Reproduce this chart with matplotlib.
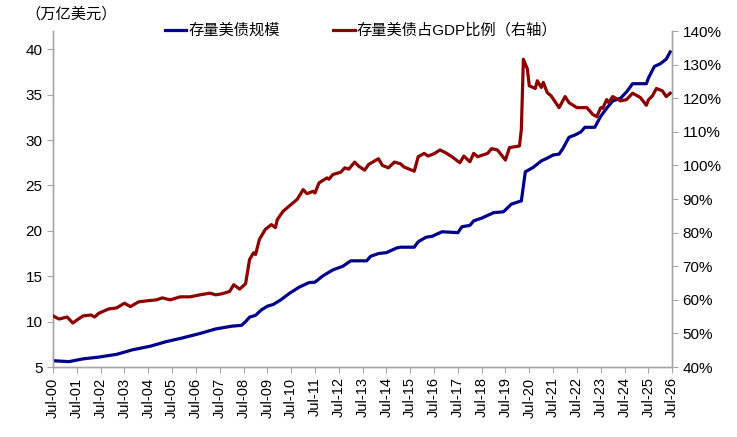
import matplotlib
matplotlib.use("Agg")
import matplotlib.pyplot as plt
import matplotlib.dates as mdates
from matplotlib.ticker import FuncFormatter
import pandas as pd

plt.rcParams['font.family'] = ['Liberation Sans', 'Noto Sans CJK SC', 'DejaVu Sans']

# 存量美债规模（万亿美元）
debt_dates = ["2000-07", "2001-03", "2001-10", "2002-06", "2003-03", "2003-11", "2004-08",
              "2005-04", "2005-12", "2006-09", "2007-05", "2008-01", "2008-06", "2008-08",
              "2008-10", "2009-01", "2009-04", "2009-07", "2009-10", "2010-02", "2010-06",
              "2010-11", "2011-04", "2011-07", "2011-11", "2012-04", "2012-09", "2013-01",
              "2013-09", "2013-11", "2014-03", "2014-07", "2014-12", "2015-02", "2015-09",
              "2015-11", "2016-03", "2016-06", "2016-11", "2017-07", "2017-09", "2018-01",
              "2018-03", "2018-07", "2019-01", "2019-06", "2019-10", "2020-03", "2020-05",
              "2020-09", "2021-01", "2021-04", "2021-07", "2021-10", "2021-12", "2022-03",
              "2022-06", "2022-09", "2022-11", "2023-04", "2023-07", "2023-10", "2024-01",
              "2024-05", "2024-08", "2024-11", "2025-06", "2025-07", "2025-10", "2026-01",
              "2026-04", "2026-06"]
debt_values = [5.70, 5.60, 5.90, 6.10, 6.40, 6.90, 7.30,
               7.80, 8.20, 8.70, 9.20, 9.50, 9.60, 10.0,
               10.5, 10.7, 11.3, 11.7, 11.9, 12.45, 13.1,
               13.8, 14.3, 14.35, 15.05, 15.7, 16.1, 16.7,
               16.7, 17.2, 17.5, 17.6, 18.1, 18.2, 18.2,
               18.8, 19.3, 19.4, 19.9, 19.8, 20.45, 20.6,
               21.1, 21.4, 22.0, 22.1, 22.95, 23.3, 26.5,
               27.0, 27.7, 28.0, 28.35, 28.45, 29.1, 30.3,
               30.55, 30.9, 31.4, 31.4, 32.6, 33.5, 34.3,
               34.6, 35.3, 36.2, 36.2, 36.8, 38.1, 38.4,
               38.9, 39.7]

# 存量美债占GDP比例（%）
ratio_dates = ["2000-07", "2000-10", "2001-02", "2001-05", "2001-07", "2001-10", "2002-02",
               "2002-04", "2002-06", "2002-11", "2003-03", "2003-07", "2003-10", "2004-02",
               "2004-06", "2004-11", "2005-02", "2005-06", "2005-11", "2006-04", "2006-09",
               "2007-02", "2007-05", "2007-08", "2007-12", "2008-02", "2008-05", "2008-08",
               "2008-10", "2008-12", "2009-01", "2009-03", "2009-06", "2009-09", "2009-11",
               "2009-12", "2010-03", "2010-05", "2010-07", "2010-10", "2011-01", "2011-03",
               "2011-06", "2011-07", "2011-09", "2012-01", "2012-02", "2012-04", "2012-08",
               "2012-10", "2012-12", "2013-03", "2013-05", "2013-08", "2013-10", "2014-03",
               "2014-05", "2014-08", "2014-11", "2015-02", "2015-04", "2015-09", "2015-11",
               "2016-02", "2016-04", "2016-07", "2016-10", "2017-01", "2017-04", "2017-08",
               "2017-10", "2018-01", "2018-03", "2018-05", "2018-10", "2018-12", "2019-03",
               "2019-07", "2019-09", "2020-02", "2020-03", "2020-04", "2020-06", "2020-07",
               "2020-10", "2020-11", "2021-01", "2021-02", "2021-04", "2021-06", "2021-10",
               "2022-01", "2022-03", "2022-07", "2022-12", "2023-03", "2023-05", "2023-07",
               "2023-08", "2023-10", "2023-11", "2024-01", "2024-05", "2024-08", "2024-11",
               "2025-03", "2025-06", "2025-07", "2025-09", "2025-11", "2026-02", "2026-04",
               "2026-06"]
ratio_values = [55.2, 54.3, 54.9, 53.1, 54.0, 55.2, 55.5,
                54.9, 56.0, 57.3, 57.6, 59.0, 58.0, 59.4,
                59.7, 60.0, 60.6, 60.0, 60.9, 60.9, 61.5,
                62.0, 61.5, 61.8, 62.5, 64.5, 63.2, 64.8,
                72.0, 74.0, 73.5, 78.0, 81.0, 82.4, 81.5,
                83.9, 86.4, 87.4, 88.4, 89.9, 92.8, 91.6,
                92.3, 91.8, 94.8, 96.3, 95.9, 97.3, 98.0,
                99.3, 98.9, 101.0, 99.8, 98.6, 100.3, 102.0,
                100.0, 99.3, 101.0, 100.5, 99.5, 98.3, 102.6,
                103.6, 102.8, 103.5, 104.6, 103.7, 102.6, 100.8,
                102.8, 101.1, 103.6, 102.6, 103.6, 105.0, 104.6,
                101.6, 105.3, 105.8, 110.7, 131.6, 128.7, 123.7,
                122.9, 125.2, 123.2, 124.7, 121.7, 120.7, 117.2,
                120.5, 118.7, 117.2, 117.2, 115.2, 114.5, 117.2,
                117.0, 119.6, 118.7, 120.5, 119.2, 119.6, 121.5,
                120.2, 117.9, 119.5, 120.7, 122.9, 122.2, 120.5,
                121.5]

tick_years = list(range(2000, 2027))

debt_x = pd.to_datetime(debt_dates)
ratio_x = pd.to_datetime(ratio_dates)

blue = "#00008C"
red = "#8C0000"
gray = "#A6A6A6"

fig = plt.figure(figsize=(7.37, 4.37), dpi=100)
ax = fig.add_axes([0.072, 0.160, 0.840, 0.769])
ax2 = ax.twinx()

l1, = ax.plot(debt_x, debt_values, color=blue, lw=2.3, label="存量美债规模", zorder=3)
l2, = ax2.plot(ratio_x, ratio_values, color=red, lw=2.3, label="存量美债占GDP比例（右轴）", zorder=3)

ax.set_ylim(5, 42)
ax.set_yticks(range(5, 41, 5))
ax2.set_ylim(40, 140)
ax2.set_yticks(range(40, 141, 10))
ax2.yaxis.set_major_formatter(FuncFormatter(lambda v, p: f"{int(v)}%"))

ticks = pd.to_datetime([f"{y}-07-01" for y in tick_years])
ax.set_xlim(ticks[0], ticks[-1])
ax.set_xticks(ticks)
ax.set_xticklabels([t.strftime("%b-%y") for t in ticks], rotation=90, fontsize=10.5)

for a in (ax, ax2):
    a.spines['top'].set_visible(False)
    for s in ('left', 'right', 'bottom'):
        a.spines[s].set_color(gray)
        a.spines[s].set_linewidth(1.0)
    a.tick_params(colors=gray, labelcolor="#000000", labelsize=11, length=4, width=0.8)
ax.tick_params(axis='x', labelsize=10.5)

fig.text(0.035, 0.968, "（万亿美元）", fontsize=11, ha='left', va='center',
         family=['Noto Sans CJK SC', 'DejaVu Sans'])

fig.legend([l1, l2], [l1.get_label(), l2.get_label()], loc='center',
           bbox_to_anchor=(0.49, 0.930), ncol=2, frameon=False, fontsize=11,
           handlelength=1.4, handletextpad=0.15, columnspacing=3.5)

fig.savefig("out.png", dpi=100)
